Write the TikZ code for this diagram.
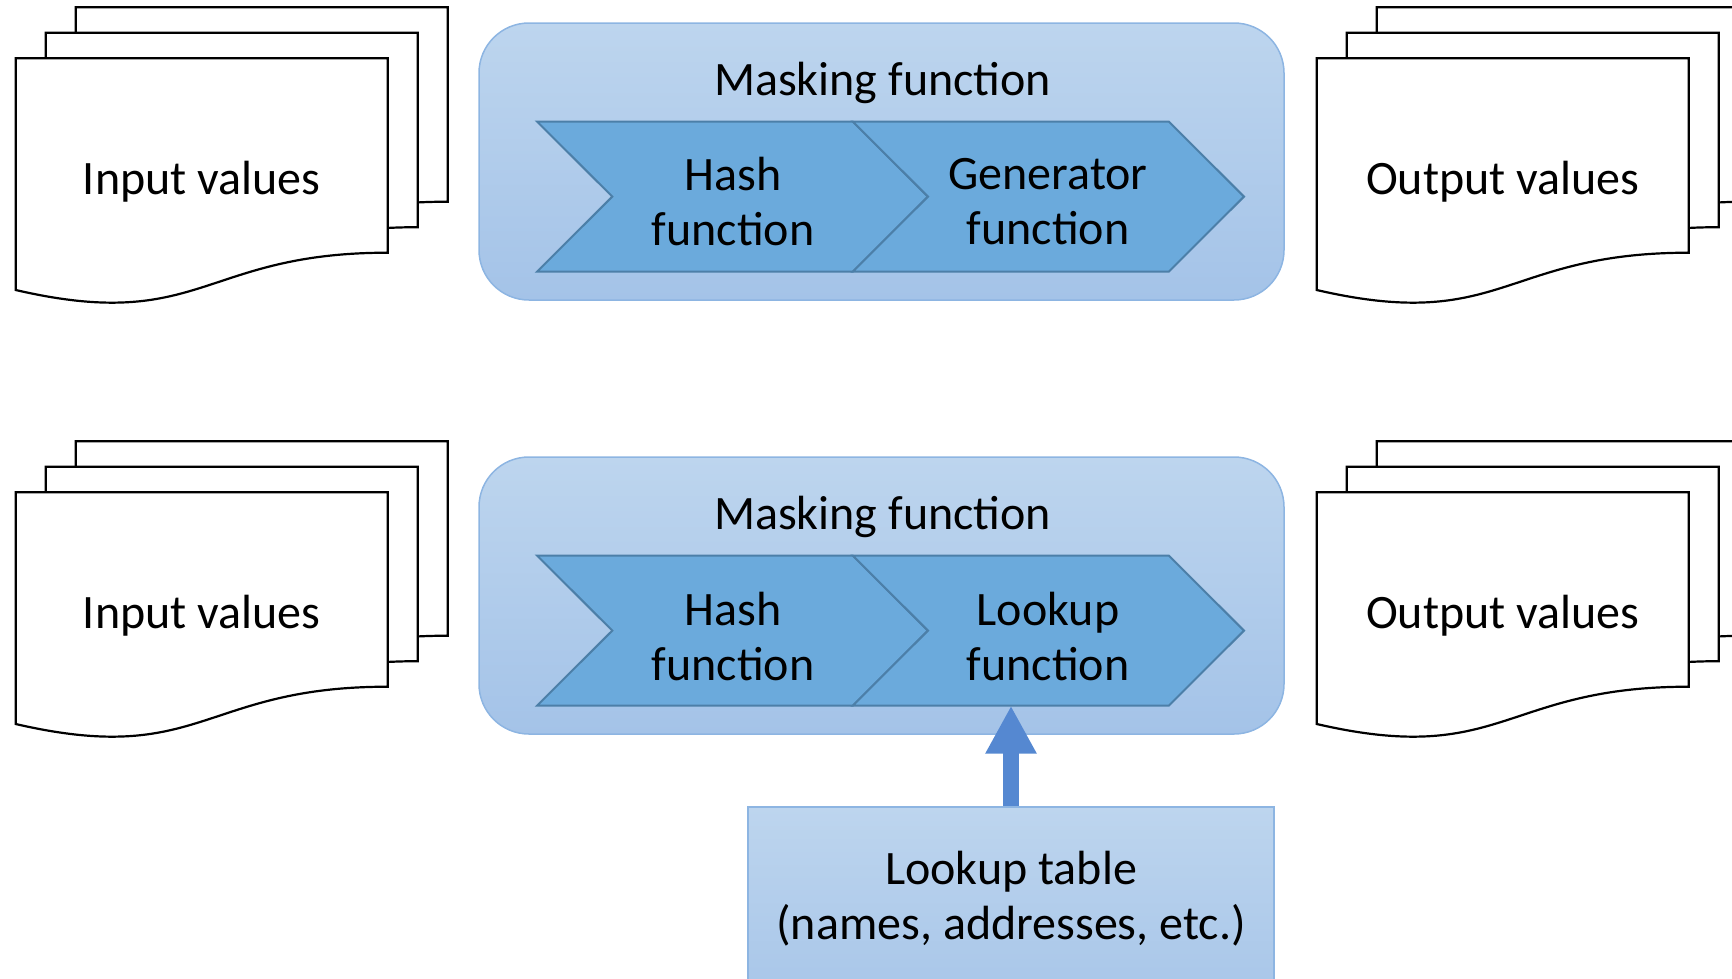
\documentclass[tikz,border=0pt]{standalone}
\usepackage{fontspec}
\setmainfont{Carlito}
\usepackage{tikz}
\usetikzlibrary{arrows.meta}
\definecolor{masktop}{HTML}{BDD5EE}
\definecolor{maskbot}{HTML}{A4C3E8}
\definecolor{maskline}{HTML}{8DB5E2}
\definecolor{chevfill}{HTML}{6BAADC}
\definecolor{chevline}{HTML}{4C7FA8}
\definecolor{feedblue}{HTML}{5588D1}
\tikzset{doc/.style={draw=black, fill=white, line width=2.2pt, line join=miter},
 maskbox/.style={draw=maskline, line width=1.5pt, rounded corners=50pt,
   top color=masktop, bottom color=maskbot, minimum width=805pt, minimum height=277pt},
 chevron/.style={draw=chevline, fill=chevfill, line width=2pt, line join=miter},
 tablebox/.style={draw=maskline, line width=1.5pt, top color=masktop, bottom color=maskbot,
   minimum width=526pt, minimum height=230pt, anchor=north},
 lbl/.style={align=center},
 feed/.style={draw=feedblue, line width=15.5pt, -{Triangle[width=48pt,length=48pt]}},
 }

\begin{document}
\begin{tikzpicture}[x=1pt, y=-1pt, font=\fontsize{48}{55}\selectfont]
    \useasboundingbox (0,0) rectangle (1732,978);
    \clip (0,0) rectangle (1732,978);
    % stacks of pages, back to front
    \foreach \dx/\dy in {0/0, 1301/0, 0/434, 1301/434}
        \foreach \k in {2,1,0}
            \draw[doc, shift={(\dx+30*\k, \dy-25.5*\k)}] (15.7,58.3) -- (387.7,58.3) -- (387.7,252.7)
                .. controls (201.7,252.7) and (201.7,333) .. (15.7,290) -- cycle;
    \node[lbl] (in1) at (201.7,182) {Input values};
    \node[lbl] (out1) at (1502.7,182) {Output values};
    \node[lbl] (in2) at (201.7,616) {Input values};
    \node[lbl] (out2) at (1502.7,616) {Output values};
    % masking boxes
    \node[maskbox] (mask1) at (881.5,161.5) {};
    \node[maskbox] (mask2) at (881.5,595.5) {};
    \node[lbl] (title1) at (882.6,82.5) {Masking function};
    \node[lbl] (title2) at (882.6,516.5) {Masking function};
    \foreach \dy in {0,434} {
        \draw[chevron, shift={(0,\dy)}] (537,121.5) -- (852.7,121.5) -- (928,196.6) -- (852.7,271.7)
            -- (537,271.7) -- (612.3,196.6) -- cycle;
        \draw[chevron, shift={(0,\dy)}] (852.7,121.5) -- (1168.7,121.5) -- (1244,196.6) -- (1168.7,271.7)
            -- (852.7,271.7) -- (928,196.6) -- cycle;
    }
    \node[lbl] (hash1) at (733,202) {Hash\\function};
    \node[lbl] (gen1) at (1048,202) {Generator\\function};
    \node[lbl] (hash2) at (733,636) {Hash\\function};
    \node[lbl] (look2) at (1048,636) {Lookup\\function};
    % lookup table feeding the second chain
    \node[tablebox] (table) at (1011,806) {};
    \node[lbl] (tabletext) at (1011,899) {Lookup table\\(names, addresses, etc.)};
    \coordinate (lookin) at (1011,705.7);
    \draw[feed] (table.north) -- (lookin);
\end{tikzpicture}
\end{document}
